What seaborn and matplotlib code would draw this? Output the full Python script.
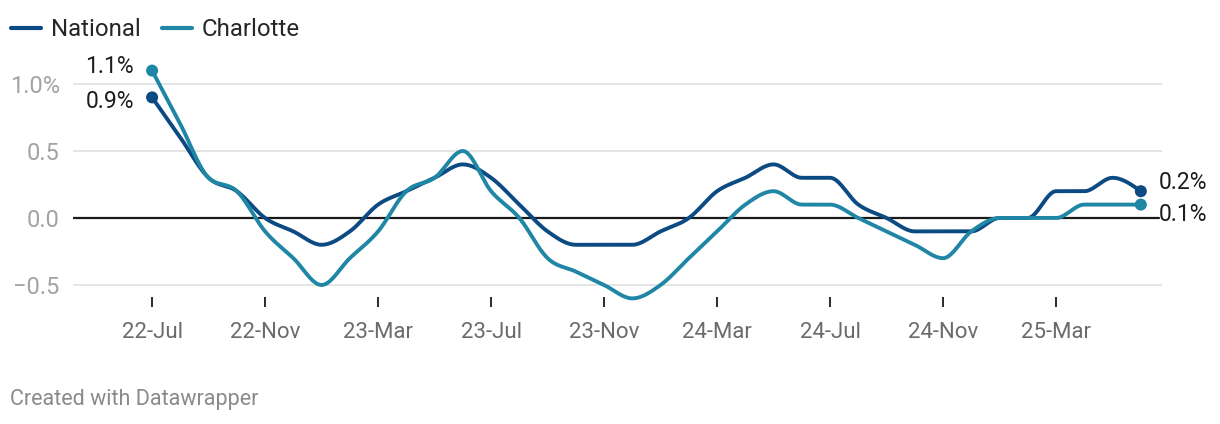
import numpy as np
import pandas as pd
import matplotlib
matplotlib.use("Agg")
import matplotlib.pyplot as plt
import seaborn as sns

# === DATA (monthly % change, Jul 2022 - Jun 2025) ===
months = pd.date_range("2022-07-01", "2025-06-01", freq="MS")
national = [0.9, 0.6, 0.3, 0.2, 0.0, -0.1, -0.2, -0.1, 0.1, 0.2, 0.3, 0.4,
            0.3, 0.1, -0.1, -0.2, -0.2, -0.2, -0.1, 0.0, 0.2, 0.3, 0.4, 0.3,
            0.3, 0.1, 0.0, -0.1, -0.1, -0.1, 0.0, 0.0, 0.2, 0.2, 0.3, 0.2]
charlotte = [1.1, 0.7, 0.3, 0.2, -0.1, -0.3, -0.5, -0.3, -0.1, 0.2, 0.3, 0.5,
             0.2, 0.0, -0.3, -0.4, -0.5, -0.6, -0.5, -0.3, -0.1, 0.1, 0.2, 0.1,
             0.1, 0.0, -0.1, -0.2, -0.3, -0.1, 0.0, 0.0, 0.0, 0.1, 0.1, 0.1]
xtick_pos = [0, 4, 8, 12, 16, 20, 24, 28, 32]
xtick_labels = ["22-Jul", "22-Nov", "23-Mar", "23-Jul", "23-Nov",
                "24-Mar", "24-Jul", "24-Nov", "25-Mar"]
ytick_pos = [-0.5, 0.0, 0.5, 1.0]
ytick_labels = ["\u22120.5", "0.0", "0.5", "1.0%"]

COLORS = {"National": "#0b4a82", "Charlotte": "#2086a6"}


def monotone_curve(y, steps=20):
    # monotone cubic (like d3 curveMonotoneX) drawn between the monthly points
    y = np.asarray(y, dtype=float)
    n = len(y)
    s = np.diff(y)
    t = np.zeros(n)
    for i in range(1, n - 1):
        s0, s1 = s[i - 1], s[i]
        p = (s0 + s1) / 2
        t[i] = (np.sign(s0) + np.sign(s1)) * min(abs(s0), abs(s1), 0.5 * abs(p))
    t[0] = (3 * s[0] - t[1]) / 2
    t[-1] = (3 * s[-1] - t[-2]) / 2
    xs, ys = [], []
    u = np.linspace(0, 1, steps, endpoint=False)
    for i in range(n - 1):
        h00 = 2 * u**3 - 3 * u**2 + 1
        h10 = u**3 - 2 * u**2 + u
        h01 = -2 * u**3 + 3 * u**2
        h11 = u**3 - u**2
        xs.append(i + u)
        ys.append(h00 * y[i] + h10 * t[i] + h01 * y[i + 1] + h11 * t[i + 1])
    xs.append([n - 1])
    ys.append([y[-1]])
    return np.concatenate(xs), np.concatenate(ys)


frames = []
for name, vals in [("National", national), ("Charlotte", charlotte)]:
    cx, cy = monotone_curve(vals)
    frames.append(pd.DataFrame({"x": cx, "value": cy, "series": name}))
curve_df = pd.concat(frames, ignore_index=True)

# === PLOT ===
sns.set_theme(style="white")
plt.rcParams["font.family"] = ["Roboto", "DejaVu Sans"]

W, H = 1220, 424
PX_PER_UNIT = 134
fig = plt.figure(figsize=(W / 100, H / 100), dpi=100)
x0, x1 = -2.8, 35.75
y0, y1 = -0.7, 1.2
ax = fig.add_axes([73 / W, (H - 285 - 0.2 * PX_PER_UNIT) / H,
                   (1162 - 73) / W, (y1 - y0) * PX_PER_UNIT / H])

for y in [-0.5, 0.5, 1.0]:
    ax.axhline(y, color="#e3e3e3", lw=1.3, zorder=0)
ax.axhline(0, color="#1a1a1a", lw=1.6, zorder=1, xmax=0.997)

sns.lineplot(data=curve_df, x="x", y="value", hue="series",
             palette=COLORS, linewidth=2.8, ax=ax, legend=False, zorder=3)

end_df = pd.DataFrame({
    "x": [0, 0, len(months) - 1, len(months) - 1],
    "value": [national[0], charlotte[0], national[-1], charlotte[-1]],
    "series": ["National", "Charlotte", "National", "Charlotte"],
})
sns.scatterplot(data=end_df, x="x", y="value", hue="series", palette=COLORS,
                s=75, edgecolor="none", ax=ax, legend=False, zorder=4)

lab = dict(fontsize=16.5, color="#1d1d1d", textcoords="offset points")
ax.annotate(f"{charlotte[0]:.1f}%", (0, charlotte[0]), xytext=(-13, 3),
            ha="right", va="center", **lab)
ax.annotate(f"{national[0]:.1f}%", (0, national[0]), xytext=(-13, -3),
            ha="right", va="center", **lab)
ax.annotate(f"{national[-1]:.1f}%", (35, national[-1]), xytext=(13, 6.5),
            ha="left", va="center", **lab)
ax.annotate(f"{charlotte[-1]:.1f}%", (35, charlotte[-1]), xytext=(13, -7),
            ha="left", va="center", **lab)

ax.set_xlim(x0, x1)
ax.set_ylim(y0, y1)
ax.set_xticks(xtick_pos)
ax.set_xticklabels(xtick_labels)
ax.set_yticks(ytick_pos)
ax.set_yticklabels(ytick_labels)
ax.set_xlabel("")
ax.set_ylabel("")
for sp in ax.spines.values():
    sp.set_visible(False)
ax.spines["bottom"].set_position(("data", -0.5 - 12 / PX_PER_UNIT))
ax.tick_params(axis="x", bottom=True, length=7.2, width=1.3, color="#1a1a1a",
               labelsize=16, labelcolor="#6b6b6b", pad=10.5)
ax.tick_params(axis="y", left=False, labelsize=17, labelcolor="#a3a3a3", pad=3.5)
ax.patch.set_alpha(0)

# legend
handles = [plt.Line2D([], [], color=COLORS[k], lw=3) for k in ["National", "Charlotte"]]
fig.legend(handles, ["National", "Charlotte"], loc="center left",
           bbox_to_anchor=(11 / W, 1 - 30 / H), ncol=2, frameon=False,
           fontsize=17.3, handlelength=1.25, handletextpad=0.4,
           columnspacing=0.9, borderpad=0, borderaxespad=0)

fig.text(10 / W, 1 - 400 / H, "Created with Datawrapper", fontsize=15.5,
         color="#8a8a8a", ha="left", va="center")

fig.savefig("out.png", dpi=100)
